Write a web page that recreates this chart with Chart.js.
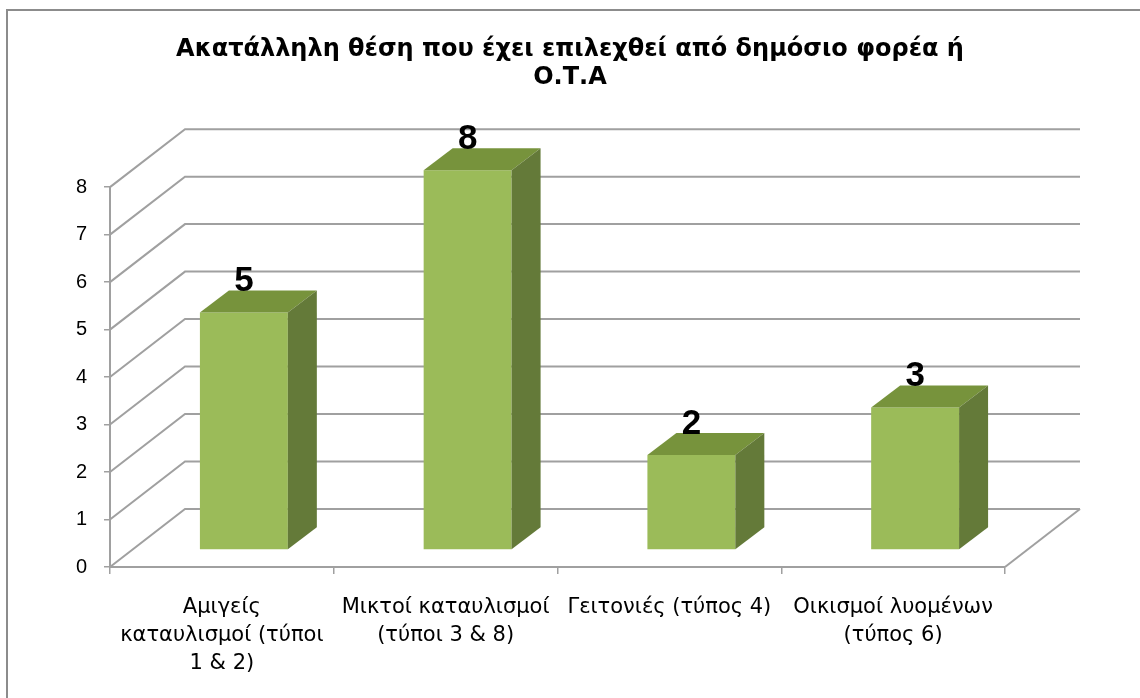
<!DOCTYPE html>
<html>
<head>
<meta charset="utf-8">
<script src="https://cdn.jsdelivr.net/npm/chart.js@4.4.1/dist/chart.umd.min.js"></script>
<style>
  html, body { margin: 0; padding: 0; background: #fff; }
  canvas { display: block; }
</style>
</head>
<body>
<canvas id="c" width="1140" height="698"></canvas>
<script>
'use strict';

// ── data ──────────────────────────────
const titleLines = ['Ακατάλληλη θέση που έχει επιλεχθεί από δημόσιο φορέα ή', 'Ο.Τ.Α'];
const categories = [
  ['Αμιγείς', 'καταυλισμοί (τύποι', '1 & 2)'],
  ['Μικτοί καταυλισμοί', '(τύποι 3 & 8)'],
  'Γειτονιές (τύπος 4)',
  ['Οικισμοί λυομένων', '(τύπος 6)']
];
const values = [5, 8, 2, 3];
const yMin = 0, yMax = 8, yStep = 1;

// ── 3D look ───────────────────────────
const WALL_DX = 75, WALL_DY = -58;   // depth of the floor / back wall
const BAR_DX = 22,  BAR_DY = -17;    // where the bar front sits inside the depth
const SIDE_DX = 29, SIDE_DY = -22;   // bar depth
const GRID = '#a0a0a0';
const FONT = "'Liberation Sans', Arial, sans-serif";
const WIDE = "'DejaVu Sans', sans-serif";

const frame3d = {
  id: 'frame3d',
  beforeDraw(chart) {
    const c = chart.ctx;
    c.save();
    c.fillStyle = '#fff';
    c.fillRect(0, 0, chart.width, chart.height);
    c.strokeStyle = '#8c8c8c';
    c.lineWidth = 2;
    c.beginPath();
    c.moveTo(7, 698); c.lineTo(7, 10); c.lineTo(1140, 10);
    c.stroke();
    c.restore();
  },
  beforeDatasetsDraw(chart) {
    const c = chart.ctx, a = chart.chartArea, ys = chart.scales.y;
    c.save();
    c.strokeStyle = GRID;
    c.lineWidth = 2;
    for (let v = yMin; v <= yMax; v += yStep) {
      const y = ys.getPixelForValue(v);
      c.beginPath();
      c.moveTo(a.left, y);
      c.lineTo(a.left + WALL_DX, y + WALL_DY);
      c.lineTo(a.right + WALL_DX, y + WALL_DY);
      c.stroke();
    }
    const y0 = ys.getPixelForValue(yMin);
    c.beginPath();
    c.moveTo(a.right, y0);
    c.lineTo(a.right + WALL_DX, y0 + WALL_DY);
    c.stroke();
    c.restore();
    // front faces drawn by Chart.js, shifted into the depth
    c.save();
    c.translate(BAR_DX, BAR_DY);
  },
  afterDatasetsDraw(chart) {
    const c = chart.ctx;
    c.restore();
    const meta = chart.getDatasetMeta(0);
    c.save();
    meta.data.forEach((bar, i) => {
      const p = bar.getProps(['x', 'y', 'base', 'width'], true);
      const l = p.x - p.width / 2 + BAR_DX, r = p.x + p.width / 2 + BAR_DX;
      const t = p.y + BAR_DY, b = p.base + BAR_DY;
      // top
      c.fillStyle = '#77933c';
      c.beginPath();
      c.moveTo(l, t); c.lineTo(l + SIDE_DX, t + SIDE_DY);
      c.lineTo(r + SIDE_DX, t + SIDE_DY); c.lineTo(r, t);
      c.closePath(); c.fill();
      // side
      c.fillStyle = '#647a39';
      c.beginPath();
      c.moveTo(r, t); c.lineTo(r + SIDE_DX, t + SIDE_DY);
      c.lineTo(r + SIDE_DX, b + SIDE_DY); c.lineTo(r, b);
      c.closePath(); c.fill();
      // value label
      c.fillStyle = '#000';
      c.font = "bold 35px " + FONT;
      c.textAlign = 'center';
      c.textBaseline = 'middle';
      c.fillText(String(values[i]), p.x + BAR_DX, t - 31);
    });
    c.restore();
  }
};

new Chart(document.getElementById('c'), {
  type: 'bar',
  data: {
    labels: categories,
    datasets: [{
      data: values,
      backgroundColor: '#9bbb59',
      borderWidth: 0,
      categoryPercentage: 1,
      barPercentage: 0.393,
      clip: false
    }]
  },
  options: {
    responsive: false,
    animation: false,
    layout: { padding: { top: 10, right: 0, bottom: 0, left: 0 } },
    plugins: {
      legend: { display: false },
      tooltip: { enabled: false },
      title: {
        display: true,
        text: titleLines,
        color: '#000',
        font: { family: WIDE, size: 24, weight: 'bold', lineHeight: 1.17 },
        padding: { top: 26, bottom: 95 }
      }
    },
    scales: {
      x: {
        grid: { drawOnChartArea: false, drawTicks: true, tickLength: 7, color: GRID, lineWidth: 1.5 },
        border: { display: true, color: GRID, width: 2 },
        ticks: {
          color: '#000', autoSkip: false, maxRotation: 0, padding: 20,
          font: { family: WIDE, size: 21, lineHeight: 1.333 }
        },
        afterFit(s) { s.height = 131; }
      },
      y: {
        min: yMin, max: yMax,
        grid: { drawOnChartArea: false, drawTicks: true, tickLength: 6, color: GRID, lineWidth: 1.5 },
        border: { display: true, color: GRID, width: 2 },
        ticks: {
          stepSize: yStep, color: '#000', padding: 17,
          font: { family: FONT, size: 20 }
        },
        afterFit(s) { s.width = 110; }
      },
      // empty right-hand box: keeps room for the 3D depth and lets the title centre on the page
      pad: {
        type: 'linear', position: 'right', display: true,
        grid: { display: false }, border: { display: false },
        ticks: { display: false },
        afterFit(s) { s.width = 135; }
      }
    }
  },
  plugins: [frame3d]
});
</script>
</body>
</html>
